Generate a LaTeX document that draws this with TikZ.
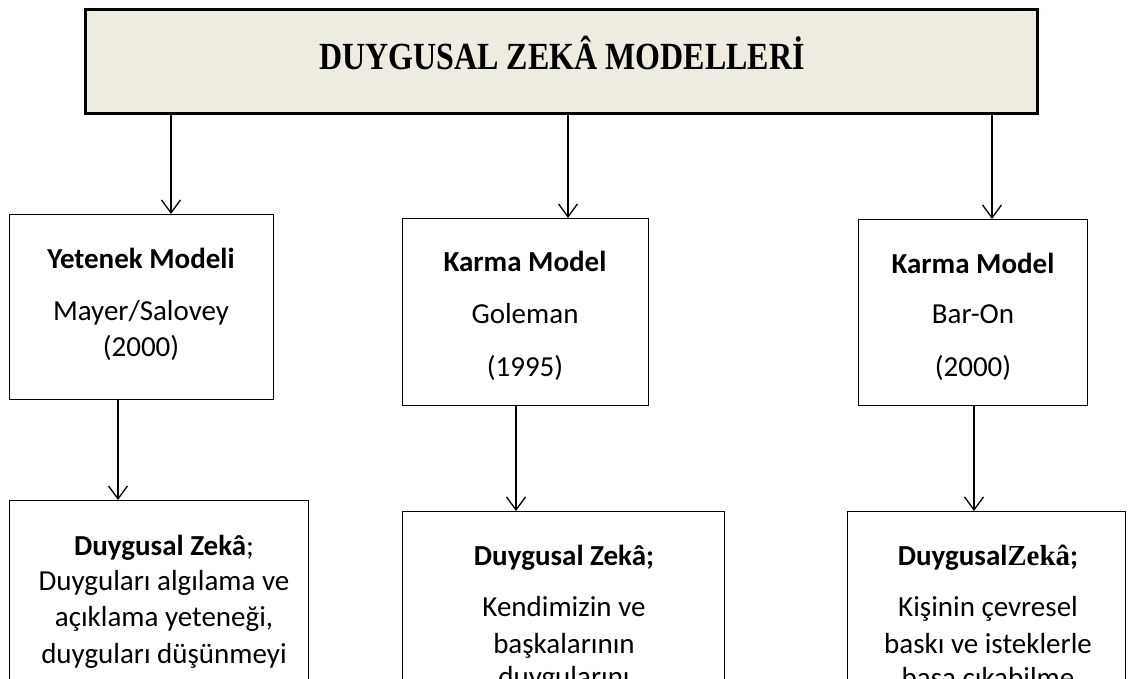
\documentclass[tikz,border=0pt]{standalone}
\usepackage{fontspec}
\usepackage{graphicx}
\setmainfont{Carlito}
\newfontfamily\titlefont{Liberation Serif}
\usetikzlibrary{arrows.meta}
\definecolor{titlebg}{HTML}{EEECE1}
\begin{document}
\begin{tikzpicture}[x=1pt,y=-1pt,
  box/.style={draw=black,line width=1.3pt,anchor=north west,inner sep=0pt},
  titlebox/.style={box,fill=titlebg,line width=3pt},
  arr/.style={line width=1.3pt,-{Straight Barb[length=13pt,width=19pt,line width=1.3pt]}},
  txt/.style={anchor=base,inner sep=0pt,font=\fontsize{29}{35}\selectfont},
  btxt/.style={txt,font=\fontsize{29}{35}\selectfont\bfseries}]
\useasboundingbox (0,0) rectangle (1129,679);
\clip (0,0) rectangle (1129,679);
\fill[white] (0,0) rectangle (1129,679);

% header
\node[titlebox,minimum width=952pt,minimum height=104pt] (title) at (84,8) {};
\node[anchor=base,inner sep=0pt,font=\titlefont\bfseries\fontsize{32}{38}\selectfont] (ttl) at (562,70) {\scalebox{1}[1.2]{DUYGUSAL ZEKÂ MODELLERİ}};

% model boxes
\node[box,minimum width=264pt,minimum height=185pt] (b1L) at (9,214) {};
\node[box,minimum width=246pt,minimum height=187pt] (b1M) at (402,218) {};
\node[box,minimum width=229pt,minimum height=186pt] (b1R) at (858,219) {};

% definition boxes
\node[box,minimum width=299pt,minimum height=220pt] (b2L) at (9,500) {};
\node[box,minimum width=322pt,minimum height=209pt] (b2M) at (402,511) {};
\node[box,minimum width=278pt,minimum height=209pt] (b2R) at (847,511) {};

% model texts
\node[btxt] (l1) at (141,268) {Yetenek Modeli};
\node[txt] (l2) at (141,320) {Mayer/Salovey};
\node[txt] (l3) at (141,356) {(2000)};
\node[btxt] (m1) at (525,271) {Karma Model};
\node[txt] (m2) at (525,323) {Goleman};
\node[txt] (m3) at (525,376) {(1995)};
\node[btxt] (r1) at (973,273) {Karma Model};
\node[txt] (r2) at (973,323) {Bar-On};
\node[txt] (r3) at (973,376) {(2000)};

% definition texts
\node[txt] (dl1) at (164,555) {\textbf{Duygusal Zekâ};};
\node[txt] (dl2) at (164,590) {Duyguları algılama ve};
\node[txt] (dl3) at (164,626) {açıklama yeteneği,};
\node[txt] (dl4) at (164,663) {duyguları düşünmeyi};
\node[btxt] (dm1) at (564,565) {Duygusal Zekâ;};
\node[txt] (dm2) at (564,616) {Kendimizin ve};
\node[txt] (dm3) at (564,653) {başkalarının};
\node[txt] (dm4) at (564,686) {duygularını};
\node[btxt] (dr1) at (988,565) {Duygusal{\titlefont\bfseries Zekâ};};
\node[txt] (dr2) at (988,616) {Kişinin çevresel};
\node[txt] (dr3) at (988,653) {baskı ve isteklerle};
\node[txt] (dr4) at (988,687) {başa çıkabilme};

% arrow columns
\coordinate (xa) at (171,0);
\coordinate (xb) at (568,0);
\coordinate (xc) at (992,0);
\coordinate (xd) at (118,0);
\coordinate (xe) at (516,0);
\coordinate (xf) at (974,0);
\draw[arr] (title.south -| xa) -- (b1L.north -| xa);
\draw[arr] (title.south -| xb) -- (b1M.north -| xb);
\draw[arr] (title.south -| xc) -- (b1R.north -| xc);
\draw[arr] (b1L.south -| xd) -- (b2L.north -| xd);
\draw[arr] (b1M.south -| xe) -- (b2M.north -| xe);
\draw[arr] (b1R.south -| xf) -- (b2R.north -| xf);
\end{tikzpicture}
\end{document}
